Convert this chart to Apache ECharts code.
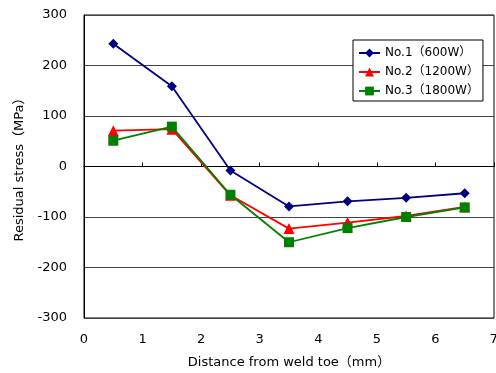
<!DOCTYPE html>
<html><head><meta charset="utf-8">
<script src="https://cdn.jsdelivr.net/npm/echarts@6/dist/echarts.min.js"></script>
<style>html,body{margin:0;padding:0;background:#fff}#c{width:496px;height:373px}</style>
</head><body><div id="c"></div>
<script>
const xs = [0.5, 1.5, 2.5, 3.5, 4.5, 5.5, 6.5];
const no1 = [243, 159, -8, -79, -69, -62, -53];
const no2 = [71, 74, -57, -123, -111, -98, -80];
const no3 = [51, 79, -56, -150, -122, -100, -81];
const names = ['No.1（600W）', 'No.2（1200W）', 'No.3（1800W）'];
const colors = ['#000080', '#ff0000', '#008000'];
const symbols = ['diamond', 'triangle', 'rect'];
const sizes = [10, 11, 10];
const FONT = '"DejaVu Sans", "Noto Sans CJK JP", sans-serif';
const pair = arr => xs.map((x, i) => [x, arr[i]]);
const chart = echarts.init(document.getElementById('c'), null, {renderer: 'canvas'});
chart.setOption({
  animation: false,
  grid: {left: 84, right: 2, top: 15, bottom: 55, show: true, borderColor: '#000', borderWidth: 1,
         containLabel: false, outerBoundsMode: 'none'},
  textStyle: {fontFamily: FONT},
  xAxis: {
    type: 'value', min: 0, max: 7, interval: 1,
    name: 'Distance from weld toe（mm）', nameLocation: 'middle', nameGap: 38,
    nameTextStyle: {fontSize: 13, color: '#000', fontFamily: FONT},
    axisLine: {lineStyle: {color: '#000', width: 1}},
    axisTick: {inside: true, length: 4, lineStyle: {color: '#000'}},
    axisLabel: {fontSize: 13, color: '#000', margin: 15, fontFamily: FONT},
    splitLine: {show: false}
  },
  yAxis: {
    type: 'value', min: -300, max: 300, interval: 100,
    name: 'Residual stress（MPa）', nameLocation: 'middle', nameGap: 54,
    nameTextStyle: {fontSize: 13, color: '#000', fontFamily: FONT},
    axisLine: {show: true, lineStyle: {color: '#000', width: 1}},
    axisTick: {show: false},
    axisLabel: {fontSize: 13, color: '#000', margin: 17, fontFamily: FONT},
    splitLine: {show: true, lineStyle: {color: '#444', width: 1}}
  },
  legend: {
    orient: 'vertical', left: 353, top: 40,
    backgroundColor: '#fff', borderColor: '#000', borderWidth: 1,
    padding: [7, 4, 4, 5], itemGap: 7, itemWidth: 21, itemHeight: 11,
    textStyle: {fontSize: 12, color: '#000', fontFamily: FONT},
    data: names
  },
  series: [no1, no2, no3].map((d, i) => ({
    name: names[i], type: 'line', data: pair(d),
    symbol: symbols[i], symbolSize: sizes[i],
    itemStyle: {color: colors[i]},
    lineStyle: {color: colors[i], width: 1.8}
  }))
});
</script></body></html>
